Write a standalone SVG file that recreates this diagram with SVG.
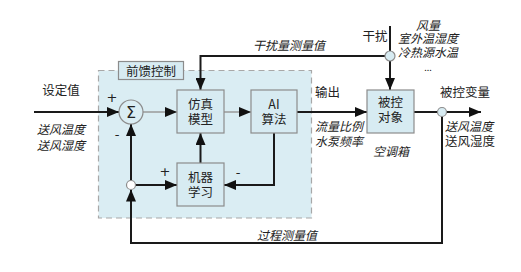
<svg xmlns="http://www.w3.org/2000/svg" width="521" height="272" viewBox="0 0 521 272">
<defs>
<marker id="ah" markerWidth="12" markerHeight="10" refX="12" refY="5" orient="auto" markerUnits="userSpaceOnUse">
<path d="M0,0 L12,5 L0,10 z" fill="#111"/>
</marker>
<style>
text{font-family:"Noto Sans CJK SC","Noto Sans",sans-serif;font-size:12.5px;fill:#222}
.it{font-style:italic;font-size:12px}
.c{text-anchor:middle}
.pm{font-family:"DejaVu Sans",sans-serif;font-size:13px}
.box{fill:#d7ebf2;stroke:#8c8c8c;stroke-width:1.2}
.thick{fill:none;stroke:#1a1a1a;stroke-width:2}
.thin{fill:none;stroke:#9a9a9a;stroke-width:1.5}
</style>
</defs>
<rect width="521" height="272" fill="#fff"/>
<g id="feedforward-region">
<rect x="98.5" y="70.5" width="213" height="147.5" fill="#daedf3" stroke="#a8a8a8" stroke-width="1.2" stroke-dasharray="6,4"/>
<rect x="118.5" y="61.5" width="65" height="18" class="box"/>
<text x="151" y="75.5" class="c">前馈控制</text>
</g>
<g id="connectors">
<line x1="34" y1="112" x2="119" y2="112" class="thick" marker-end="url(#ah)"/>
<line x1="143" y1="112" x2="177" y2="112" class="thin" marker-end="url(#ah)"/>
<line x1="224" y1="112" x2="251" y2="112" class="thin" marker-end="url(#ah)"/>
<line x1="297" y1="112" x2="367" y2="112" class="thick" marker-end="url(#ah)"/>
<line x1="414" y1="112" x2="437.5" y2="112" class="thick"/>
<line x1="446.5" y1="112" x2="481" y2="112" class="thick" marker-end="url(#ah)"/>
<polyline points="442,116.5 442,243 131,243 131,189.5" class="thick" marker-end="url(#ah)"/>
<line x1="131" y1="180.5" x2="131" y2="124" class="thick" marker-end="url(#ah)"/>
<line x1="135.5" y1="185" x2="177" y2="185" class="thick" marker-end="url(#ah)"/>
<polyline points="274,133 274,185 224,185" class="thick" marker-end="url(#ah)"/>
<line x1="200.5" y1="163" x2="200.5" y2="133" class="thick" marker-end="url(#ah)"/>
<line x1="390" y1="26" x2="390" y2="51" class="thick"/>
<line x1="390" y1="61" x2="390" y2="90" class="thick" marker-end="url(#ah)"/>
<polyline points="385,56 200.5,56 200.5,90" class="thick" marker-end="url(#ah)"/>
</g>
<g id="sum">
<circle cx="131" cy="112" r="12" fill="#daedf3" stroke="#8c8c8c" stroke-width="1.2"/>
<text x="131" y="118" class="c" style="font-family:'DejaVu Sans',sans-serif;font-size:16px">Σ</text>
<text x="112" y="102" class="c pm">+</text>
<text x="117" y="139" class="c pm">-</text>
</g>
<g id="branch-left"><circle cx="131" cy="185" r="4.5" fill="#fff" stroke="#8c8c8c" stroke-width="1.2"/></g>
<g id="branch-right"><circle cx="442" cy="112" r="4.5" fill="#d7ebf2" stroke="#8c8c8c" stroke-width="1.2"/></g>
<g id="branch-dist"><circle cx="390" cy="56" r="5" fill="#d7ebf2" stroke="#8c8c8c" stroke-width="1.2"/></g>
<g id="sim-model">
<rect x="177" y="90" width="47" height="43" class="box"/>
<text x="200.5" y="108.5" class="c">仿真</text>
<text x="200.5" y="123.5" class="c">模型</text>
</g>
<g id="ai-algo">
<rect x="251" y="90" width="46" height="43" class="box"/>
<text x="274" y="108.5" class="c">AI</text>
<text x="274" y="123.5" class="c">算法</text>
</g>
<g id="ml">
<rect x="177" y="163" width="47" height="43" class="box"/>
<text x="200.5" y="181.5" class="c">机器</text>
<text x="200.5" y="196.5" class="c">学习</text>
<text x="165" y="176" class="c pm">+</text>
<text x="238" y="177" class="c pm">-</text>
</g>
<g id="plant">
<rect x="367" y="90" width="47" height="43" class="box"/>
<text x="390.5" y="107" class="c">被控</text>
<text x="390.5" y="122" class="c">对象</text>
<text x="391" y="156" class="c it">空调箱</text>
</g>
<g id="labels">
<text x="61" y="95" class="c">设定值</text>
<text x="61" y="134" class="c it">送风温度</text>
<text x="61" y="150" class="c it">送风湿度</text>
<text x="289" y="50" class="c it">干扰量测量值</text>
<text x="375" y="41" class="c">干扰</text>
<text x="428" y="30" class="c it">风量</text>
<text x="428" y="43" class="c it">室外温湿度</text>
<text x="428" y="57" class="c it">冷热源水温</text>
<text x="428" y="71" class="c" style="font-size:9px">...</text>
<text x="315" y="97">输出</text>
<text x="315" y="131" class="it">流量比例</text>
<text x="315" y="146" class="it">水泵频率</text>
<text x="440" y="97">被控变量</text>
<text x="445" y="131" class="it">送风温度</text>
<text x="445" y="146">送风湿度</text>
<text x="287" y="240" class="c it">过程测量值</text>
</g>
</svg>
